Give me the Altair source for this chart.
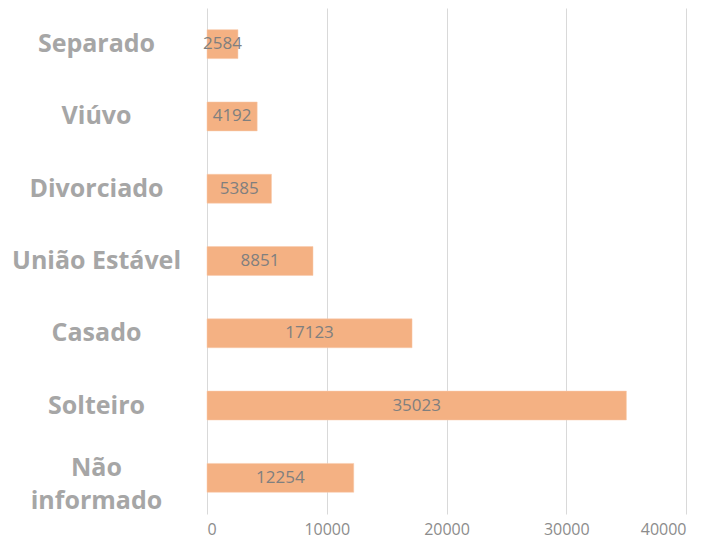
import altair as alt
import pandas as pd

categories = ["Separado", "Viúvo", "Divorciado", "União Estável", "Casado", "Solteiro", "Não informado"]
values = [2584, 4192, 5385, 8851, 17123, 35023, 12254]
x_ticks = [0, 10000, 20000, 30000, 40000]

df = pd.DataFrame({"cat": categories, "val": values})

y_enc = alt.Y(
    "cat:N",
    sort=categories,
    title=None,
    scale=alt.Scale(paddingInner=0.6, paddingOuter=0.3),
    axis=alt.Axis(
        domain=False,
        ticks=False,
        tickSize=0,
        grid=False,
        labelAlign="center",
        labelBaseline="middle",
        labelPadding=111,
        labelFont="Open Sans",
        labelFontWeight="bold",
        labelFontSize=25,
        labelColor="#A6A6A6",
        labelLineHeight=33,
        labelOffset={"condition": {"test": "datum.value == 'Não informado'", "value": -10}, "value": 0},
        labelExpr="datum.label == 'Não informado' ? ['Não', 'informado'] : datum.label",
    ),
)

x_enc = alt.X(
    "val:Q",
    title=None,
    scale=alt.Scale(domain=[0, 40000], nice=False),
    axis=alt.Axis(
        values=x_ticks,
        domain=False,
        ticks=False,
        grid=True,
        gridColor="#D9D9D9",
        gridWidth=1,
        labelFont="Open Sans",
        labelFontSize=16,
        labelColor="#8C8C8C",
        labelPadding=7,
        format="d",
    ),
)

bars = alt.Chart(df).mark_bar(color="#F4B183", stroke="#F8CBAD", strokeWidth=0.5).encode(
    x=x_enc,
    y=y_enc,
)

labels = alt.Chart(df).transform_calculate(half="datum.val / 2").mark_text(
    font="Open Sans", fontSize=17, color="#7F7F7F", baseline="middle", align="center"
).encode(
    x=alt.X("half:Q"),
    y=alt.Y("cat:N", sort=categories),
    text=alt.Text("val:Q", format="d"),
)

chart = alt.layer(bars, labels).properties(
    width=479,
    height=506,
    background="white",
    autosize=alt.AutoSizeParams(type="none"),
    padding={"left": 199, "top": 0, "right": 21, "bottom": 31},
).configure_view(stroke=None).configure_axis(domain=False)

chart.save("out.html", embed_options={"renderer": "svg", "actions": False})
